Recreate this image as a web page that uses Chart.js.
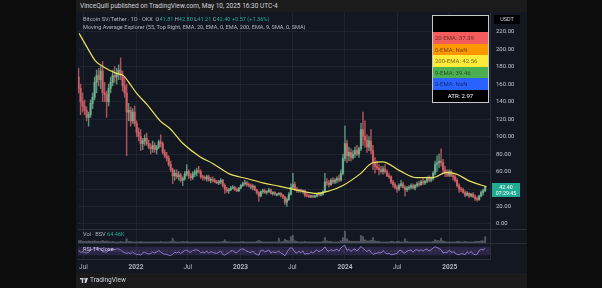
<!DOCTYPE html>
<html>
<head>
<meta charset="utf-8">
<script src="https://cdn.jsdelivr.net/npm/chart.js@4.4.1/dist/chart.umd.min.js"></script>
<style>
  html, body { margin: 0; padding: 0; }
  body { width: 602px; height: 288px; background: #0c0c0c; position: relative; overflow: hidden;
         font-family: Roboto, "Liberation Sans", Arial, sans-serif; }
  .panel { position: absolute; left: 76px; top: 0; width: 451px; height: 288px; background: #1b1b1b; }
  #box { position: absolute; left: 76px; top: 12px; width: 451px; height: 261px; background: #131722; }
  #box canvas { position: absolute; left: 0; top: 0; }
  .txt { position: absolute; white-space: nowrap; }
  .pub { left: 80px; top: 2px; font-size: 6.5px; color: #d1d4dc; }
  .leg { left: 83px; font-size: 5.6px; color: #b2b5be; }
  .grn { color: #22ab94; }
  #ma { position: absolute; left: 432px; top: 15px; width: 55px; height: 86px; background: #000;
        border: 1px solid #c8c8c8; font-size: 6px; }
  #ma div { position: absolute; left: 0; width: 55px; height: 11.5px; line-height: 11.5px; padding-left: 2px;
            box-sizing: border-box; color: rgba(0,0,0,0.55); white-space: nowrap; }
  .usdt { left: 494px; top: 15px; width: 26px; height: 9px; line-height: 9px; background: #000; color: #d1d4dc;
          font-size: 5.5px; text-align: center; }
  .last { left: 492px; top: 183px; width: 28px; height: 14px; background: #22ab94; color: #fff;
          font-size: 5.3px; line-height: 6.5px; text-align: center; padding-top: 0.5px; box-sizing: border-box; }
  .foot { left: 80px; top: 276px; font-size: 6.5px; color: #d1d4dc; display: flex; align-items: center; gap: 2px; }
</style>
</head>
<body>
<div class="panel"></div>
<div id="box"><canvas id="c" width="451" height="261"></canvas></div>

<div class="txt pub">VinceQuill published on TradingView.com, May 10, 2025 16:30 UTC-4</div>
<div class="txt leg" style="top:15.5px">Bitcoin SV/Tether · 1D · OKX&nbsp; O<span class="grn">41.81</span> H<span class="grn">42.80</span> L<span class="grn">41.21</span> C<span class="grn">42.40 +0.57 (+1.36%)</span></div>
<div class="txt leg" style="top:23.5px">Moving Average Explorer (55, Top Right, EMA, 20, EMA, 0, EMA, 200, EMA, 9, SMA, 0, SMA)</div>
<div class="txt leg" style="top:231px">Vol · BSV <span class="grn">64.46K</span></div>
<div class="txt leg" style="top:246px;color:#d7d0ee">RSI 14 close</div>

<div id="ma">
  <div style="top:16px;background:#f25c5c">20 EMA: 37.39</div>
  <div style="top:27.5px;background:#ff9800">0-EMA: NaN</div>
  <div style="top:39px;background:#ffeb3b">200-EMA: 42.56</div>
  <div style="top:50.5px;background:#4caf50">9-EMA: 39.46</div>
  <div style="top:62px;background:#2962ff">0-EMA: NaN</div>
  <div style="top:73.5px;background:#000;color:#fff;text-align:center;padding-left:0">ATR: 2.97</div>
</div>
<div class="txt usdt">USDT</div>
<div class="txt last">42.40<br>07:29:45</div>
<div class="txt foot">
  <svg width="8" height="5" viewBox="0 0 8 5"><rect x="0" y="0" width="3.2" height="1.4" fill="#d1d4dc"/><rect x="1.8" y="0" width="1.4" height="5" fill="#d1d4dc"/><circle cx="4.4" cy="0.8" r="0.8" fill="#d1d4dc"/><polygon points="5.4,0 8,0 6.2,5 4.6,5" fill="#d1d4dc"/></svg>
  <span>TradingView</span>
</div>

<script>
// weekly candles, x = days counted from 2022-01-01, first week starts 2021-06-14
const firstDay = -201;
const stepDays = 7;

const opens = [
  168,155,140,135,130,122,125,138,145,162, 170,165,175,150,148,140,155,162,170,168,
  172,176,170,158,150,128,130,118,128,115, 105,100,92,95,98,92,88,86,90,85,
  88,94,92,82,78,75,68,62,55,58, 54,56,50,52,57,60,55,53,57,59,
  61,60,54,53,52,54,50,51,50,48, 47,48,50,44,40,38,39,41,42,39,
  38,41,44,46,47,45,44,42,43,39, 36,32,37,38,36,37,39,35,36,34,
  34,35,33,31,25,28,34,42,45,40, 38,39,37,38,33,32,31,32,31,32,
  34,33,34,37,48,47,45,50,48,50, 52,50,58,75,92,78,82,76,80,84,
  80,86,108,100,96,88,95,84,70,66, 64,62,60,63,60,55,54,48,45,42,
  40,44,46,42,39,41,42,44,41,44, 46,45,48,47,49,52,50,52,58,68,
  70,72,70,62,58,56,60,55,54,50, 44,40,39,36,33,35,32,34,31,29,
  28,32,36,38
];
const highs = [
  178,160,150,142,134,128,142,150,168,176, 178,180,186,162,152,160,168,176,180,178,
  182,190,175,168,160,138,134,132,135,118, 110,108,98,102,104,96,92,95,93,90,
  96,102,94,85,82,78,72,64,62,62, 60,58,54,60,68,62,58,60,62,64,
  66,62,56,55,56,56,53,54,52,50, 50,52,51,46,42,41,43,44,43,41,
  42,45,48,50,49,47,46,45,44,40, 37,38,40,40,38,41,40,37,37,35,
  36,36,34,32,30,36,46,58,48,42, 40,40,39,39,35,34,33,33,33,35,
  36,35,38,58,52,50,52,53,52,54, 56,62,80,112,96,88,86,84,88,90,
  88,115,128,118,102,100,108,90,76,72, 68,66,66,68,62,58,55,50,47,44,
  46,50,48,44,43,44,46,46,45,48, 49,50,52,50,54,55,54,60,72,78,
  80,86,74,66,62,62,62,58,56,52, 46,42,41,38,37,36,35,36,33,31,
  33,38,40,43
];
const lows = [
  150,125,128,125,118,112,122,132,142,150, 158,155,140,140,122,135,150,158,162,160,
  165,165,152,145,78,118,112,115,112,100, 95,84,85,90,90,86,80,82,82,80,
  86,88,80,76,72,66,60,46,50,52, 50,48,44,50,55,52,50,51,54,55,
  58,52,50,50,49,49,47,48,47,46, 45,46,42,35,36,35,38,40,38,37,
  37,40,43,44,43,42,40,39,38,34, 26,31,35,35,34,36,34,33,33,32,
  33,31,29,22,20,27,33,40,38,36, 36,36,35,31,31,30,30,30,30,31,
  32,32,33,36,44,42,44,46,46,47, 48,49,56,72,70,72,72,74,76,78,
  76,84,90,88,82,84,80,62,58,62, 56,58,57,58,54,52,46,42,40,36,
  38,42,41,32,37,39,40,40,39,42, 43,44,45,45,47,48,48,50,56,60,
  64,66,58,54,54,54,54,50,48,42, 36,37,35,31,32,30,31,30,27,26,
  27,31,33,37
];
const closes = [
  155,140,135,130,122,125,138,145,162,170, 165,175,150,148,140,155,162,170,168,172,
  176,170,158,150,128,130,118,128,115,105, 100,92,95,98,92,88,86,90,85,88,
  94,92,82,78,75,68,62,55,58,54, 56,50,52,57,60,55,53,57,59,61,
  60,54,53,52,54,50,51,50,48,47, 48,50,44,40,38,39,41,42,39,38,
  41,44,46,47,45,44,42,43,39,36, 32,37,38,36,37,39,35,36,34,34,
  35,33,31,25,28,34,42,45,40,38, 39,37,38,33,32,31,32,31,32,34,
  33,34,37,48,47,45,50,48,50,52, 50,58,75,92,78,82,76,80,84,80,
  86,108,100,96,88,95,84,70,66,64, 62,60,63,60,55,54,48,45,42,40,
  44,46,42,39,41,42,44,41,44,46, 45,48,47,49,52,50,52,58,68,70,
  72,70,62,58,56,60,55,54,50,44, 40,39,36,33,35,32,34,31,29,28,
  32,36,38,42.4
];
const volumes = [
  4,5,3,3,3,4,3,3,4,3, 3,3,5,3,4,3,2,3,2,2,
  2,3,2,2,8,3,3,2,2,2, 2,3,2,2,2,2,2,2,2,2,
  2,3,2,2,2,2,3,9,3,2, 2,2,3,2,3,2,2,2,2,2,
  2,2,2,2,2,2,2,2,2,2, 2,2,3,6,3,2,2,2,2,2,
  2,2,3,2,2,2,2,2,2,3, 5,3,2,2,2,2,2,2,2,2,
  9,2,3,7,5,4,12,14,4,3, 2,2,2,3,2,2,2,2,2,2,
  2,2,3,10,4,3,3,2,2,2, 2,4,10,22,8,4,3,3,3,3,
  3,14,12,6,4,4,5,10,4,3, 3,2,2,2,2,2,3,3,2,3,
  3,2,2,8,3,2,2,2,2,2, 2,2,2,2,2,2,2,3,6,5,
  4,9,4,3,2,2,2,2,2,3, 3,2,2,3,2,2,2,2,3,3,
  3,4,4,12
];
const rsiValues = [
  52,44,46,43,40,44,55,58,64,66, 60,63,47,46,44,54,58,60,57,59,
  60,55,46,43,38,42,36,45,38,33, 34,31,40,45,38,36,38,45,40,46,
  52,46,38,35,34,30,28,35,44,40, 46,38,45,52,54,46,44,52,55,56,
  52,42,44,43,48,40,46,44,40,39, 44,50,34,30,38,42,50,52,43,41,
  52,58,60,56,48,46,42,50,38,34, 30,52,54,46,50,55,40,47,42,44,
  50,40,36,26,42,58,66,60,44,40, 48,42,50,34,38,36,46,40,48,56,
  46,52,58,70,54,48,58,50,55,58, 50,64,74,76,54,58,48,56,60,50,
  60,72,62,56,46,56,44,34,38,40, 42,40,52,44,36,40,32,34,36,38,
  52,54,42,40,50,52,56,44,55,56, 50,56,50,56,60,50,56,64,70,66,
  62,56,40,44,42,54,44,46,40,34, 32,38,36,32,46,38,48,36,32,34,
  52,58,56,62
];
const emaDays = [-199,-171,-143,-115,-66,-45,-21,3,40,84,119,164,223,269,328,387,443,503,572,632,677,723,782,827,862,921,981,1037,1085,1120,1166,1225];
const emaValues = [218,202,187,180,172,170,160,149,136,118,109,92,77,69,57,52,47,43,38,35,38,44,57,70,71,61,53,53,59,57,49,42.6];

const tickDays = [-184, 0, 181, 365, 546, 730, 912, 1096];
const tickLabels = ['Jul', '2022', 'Jul', '2023', 'Jul', '2024', 'Jul', '2025'];
const priceTicks = [0, 20, 40, 60, 80, 100, 120, 140, 160, 180, 200, 220];

const upColor = 'rgba(118,192,152,0.72)';
const downColor = 'rgba(224,104,108,0.75)';
const candleColor = ctx => closes[ctx.dataIndex] >= opens[ctx.dataIndex] ? upColor : downColor;
const weekX = i => firstDay + i * stepDays;

const wicks = highs.map((h, i) => ({ x: weekX(i), y: [lows[i], h] }));
const bodies = opens.map((o, i) => ({ x: weekX(i), y: [o, closes[i]] }));
const volBars = volumes.map((v, i) => ({ x: weekX(i), y: v }));
const rsiPts = rsiValues.map((v, i) => ({ x: weekX(i), y: v }));
const emaPts = emaDays.map((d, i) => ({ x: d, y: emaValues[i] }));

const gridColor = 'rgba(42,46,57,0.55)';
const sepColor = '#2a2e39';

// keep tick labels from pushing the plot area inwards
const noPad = s => { s.paddingLeft = s.paddingRight = s.paddingTop = s.paddingBottom = 0; };

const panes = {
  id: 'panes',
  beforeDatasetsDraw(chart) {
    const { ctx, chartArea: a, scales } = chart;
    const r = scales.yRsi;
    ctx.save();
    const t = r.getPixelForValue(70), b = r.getPixelForValue(30);
    ctx.fillStyle = 'rgba(126,87,194,0.22)';
    ctx.fillRect(a.left, t, a.right - a.left, b - t);
    ctx.setLineDash([2, 2]);
    ctx.strokeStyle = 'rgba(120,123,134,0.5)';
    ctx.lineWidth = 0.6;
    ctx.beginPath();
    ctx.moveTo(a.left, r.getPixelForValue(50));
    ctx.lineTo(a.right, r.getPixelForValue(50));
    ctx.stroke();
    ctx.setLineDash([]);
    ctx.strokeStyle = sepColor;
    ctx.lineWidth = 1;
    [scales.yVol.top, r.top].forEach(y => {
      const yy = Math.round(y) + 0.5;
      ctx.beginPath();
      ctx.moveTo(a.left, yy);
      ctx.lineTo(chart.width, yy);
      ctx.stroke();
    });
    ctx.restore();
  }
};

const sideAxis = (extra) => Object.assign({
  position: 'right',
  stack: 'panes',
  afterFit: s => { s.width = 37; noPad(s); },
  grid: { display: false },
  border: { color: sepColor },
  ticks: { display: false }
}, extra);

new Chart(document.getElementById('c'), {
  type: 'bar',
  data: {
    datasets: [
      { type: 'line', data: emaPts, yAxisID: 'y', borderColor: '#ebe35a', borderWidth: 1.2,
        pointRadius: 0, cubicInterpolationMode: 'monotone', order: 0 },
      { data: bodies, yAxisID: 'y', backgroundColor: candleColor, barThickness: 1.6,
        minBarLength: 1, grouped: false, order: 1 },
      { data: wicks, yAxisID: 'y', backgroundColor: candleColor, barThickness: 0.8,
        grouped: false, order: 2 },
      { data: volBars, yAxisID: 'yVol', backgroundColor: 'rgba(140,143,154,0.5)', barThickness: 1.4,
        grouped: false, order: 3 },
      { type: 'line', data: rsiPts, yAxisID: 'yRsi', borderColor: '#a48be6', borderWidth: 0.8,
        pointRadius: 0, order: 0 }
    ]
  },
  options: {
    responsive: false,
    animation: false,
    events: [],
    layout: { autoPadding: false, padding: { left: 2, top: 0, right: 0, bottom: 0 } },
    plugins: { legend: { display: false }, tooltip: { enabled: false } },
    scales: {
      x: {
        type: 'linear', min: -203, max: 1237, offset: false,
        afterBuildTicks: s => { s.ticks = tickDays.map(v => ({ value: v })); },
        afterFit: s => { s.height = 14; noPad(s); },
        grid: { color: gridColor, drawTicks: false, offset: false },
        border: { color: sepColor },
        ticks: {
          autoSkip: false, maxRotation: 0, padding: 4, color: '#b2b5be',
          font: ctx => ({ size: 6.5, weight: /^\d/.test(tickLabels[ctx.index] || '') ? 'bold' : 'normal',
                          family: 'Roboto, "Liberation Sans", sans-serif' }),
          callback: (v, i) => tickLabels[i]
        }
      },
      y: sideAxis({
        stackWeight: 217, min: -5.75, max: 242.5,
        afterBuildTicks: s => { s.ticks = priceTicks.map(v => ({ value: v })); },
        grid: { color: gridColor, drawTicks: false },
        ticks: { display: true, padding: 6, color: '#c3c6ce',
                 font: { size: 6, family: 'Roboto, "Liberation Sans", sans-serif' },
                 callback: v => v.toFixed(2) }
      }),
      yVol: sideAxis({ stackWeight: 14, min: 0, max: 26 }),
      yRsi: sideAxis({ stackWeight: 16, min: 12, max: 88 })
    }
  },
  plugins: [panes]
});
</script>
</body>
</html>
